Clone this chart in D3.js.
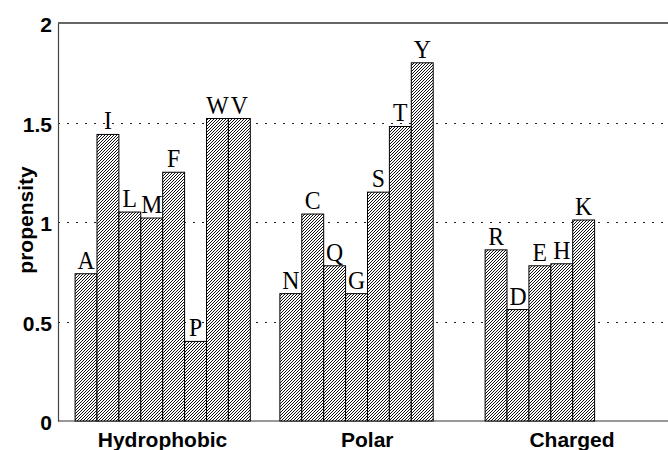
<!DOCTYPE html>
<html>

<head>
    <meta charset="utf-8">
    <title>Propensity</title>
    <script src="https://d3js.org/d3.v7.min.js"></script>
    <style>
        body { margin: 0; background: #fff; }
        .lab { font-family: "Liberation Sans", Arial, sans-serif; font-weight: bold; font-size: 21px; }
        .res { font-family: "Liberation Serif", "Times New Roman", serif; font-size: 25px; }
    </style>
</head>

<body>
    <svg id="chart" width="668" height="450"></svg>
    <script>
        // data
        const groups = ["Hydrophobic", "Polar", "Charged"];
        const hydrophobicRes = ["A", "I", "L", "M", "F", "P", "W", "V"];
        const hydrophobicVals = [0.74, 1.44, 1.05, 1.02, 1.25, 0.40, 1.52, 1.52];
        const polarRes = ["N", "C", "Q", "G", "S", "T", "Y"];
        const polarVals = [0.64, 1.04, 0.78, 0.64, 1.15, 1.48, 1.80];
        const chargedRes = ["R", "D", "E", "H", "K"];
        const chargedVals = [0.86, 0.56, 0.78, 0.79, 1.01];
        const yTicks = [0, 0.5, 1, 1.5, 2];
        const gridTicks = [0.5, 1, 1.5];

        // layout: where each group starts, in bar widths
        const groupStart = [0.78, 10.13, 19.5];

        const svg = d3.select("#chart");
        const mLeft = 58, mRight = 668, mTop = 23, mBottom = 421;

        const x = d3.scaleLinear().domain([0, 27.85]).range([mLeft, mRight]);
        const y = d3.scaleLinear().domain([0, 2]).range([mBottom, mTop]);
        const xLab = d3.scalePoint().domain(groups).range([162.5, 572]);

        const bars = [];
        [[hydrophobicRes, hydrophobicVals], [polarRes, polarVals], [chargedRes, chargedVals]]
            .forEach(([res, vals], g) => {
                res.forEach((r, i) => bars.push({ res: r, v: vals[i], pos: groupStart[g] + i }));
            });

        // hatch pattern
        const pat = svg.append("defs").append("pattern")
            .attr("id", "hatch")
            .attr("patternUnits", "userSpaceOnUse")
            .attr("width", 3).attr("height", 3);
        pat.append("rect").attr("width", 3).attr("height", 3).attr("fill", "#fff");
        pat.append("path")
            .attr("d", "M0,3 L3,0 M-1,1 L1,-1 M2,4 L4,2")
            .attr("stroke", "#111").attr("stroke-width", 1.0);

        // dotted grid
        svg.append("g").selectAll("line")
            .data(gridTicks)
            .join("line")
            .attr("x1", mLeft).attr("x2", mRight)
            .attr("y1", d => Math.round(y(d)) + 0.5).attr("y2", d => Math.round(y(d)) + 0.5)
            .attr("stroke", "#222")
            .attr("stroke-dasharray", "2 7");

        // frame lines
        svg.append("line").attr("x1", mLeft).attr("x2", mRight).attr("y1", mTop).attr("y2", mTop)
            .attr("stroke", "#333").attr("stroke-width", 1.5);
        svg.append("line").attr("x1", mLeft).attr("x2", mRight).attr("y1", mBottom).attr("y2", mBottom)
            .attr("stroke", "#333").attr("stroke-width", 1.2);

        // bars
        const bw = x(1) - x(0);
        svg.append("g").selectAll("rect")
            .data(bars)
            .join("rect")
            .attr("x", d => x(d.pos))
            .attr("width", bw)
            .attr("y", d => y(d.v))
            .attr("height", d => y(0) - y(d.v))
            .attr("fill", "url(#hatch)")
            .attr("stroke", "#000")
            .attr("stroke-width", 1);

        // residue letters
        svg.append("g").selectAll("text")
            .data(bars)
            .join("text")
            .attr("class", "res")
            .attr("text-anchor", "middle")
            .attr("transform", d => `translate(${x(d.pos) + bw / 2},${y(d.v) - 5}) scale(0.95,1)`)
            .text(d => d.res);

        // y axis
        const yAxis = svg.append("g")
            .attr("transform", `translate(${mLeft},0)`)
            .call(d3.axisLeft(y).tickValues(yTicks).tickSize(0).tickPadding(6).tickFormat(d3.format("")));
        yAxis.select(".domain").attr("stroke", "#444").attr("stroke-width", 1.2);
        yAxis.selectAll("text")
            .attr("class", "lab")
            .attr("fill", "#000")
            .attr("dy", "0.42em");

        svg.append("text")
            .attr("class", "lab")
            .attr("text-anchor", "middle")
            .attr("transform", "translate(33,220) rotate(-90)")
            .text("propensity");

        // group labels
        svg.append("g").selectAll("text")
            .data(groups)
            .join("text")
            .attr("class", "lab")
            .attr("text-anchor", "middle")
            .attr("x", d => xLab(d))
            .attr("y", 447)
            .text(d => d);
    </script>
</body>

</html>
